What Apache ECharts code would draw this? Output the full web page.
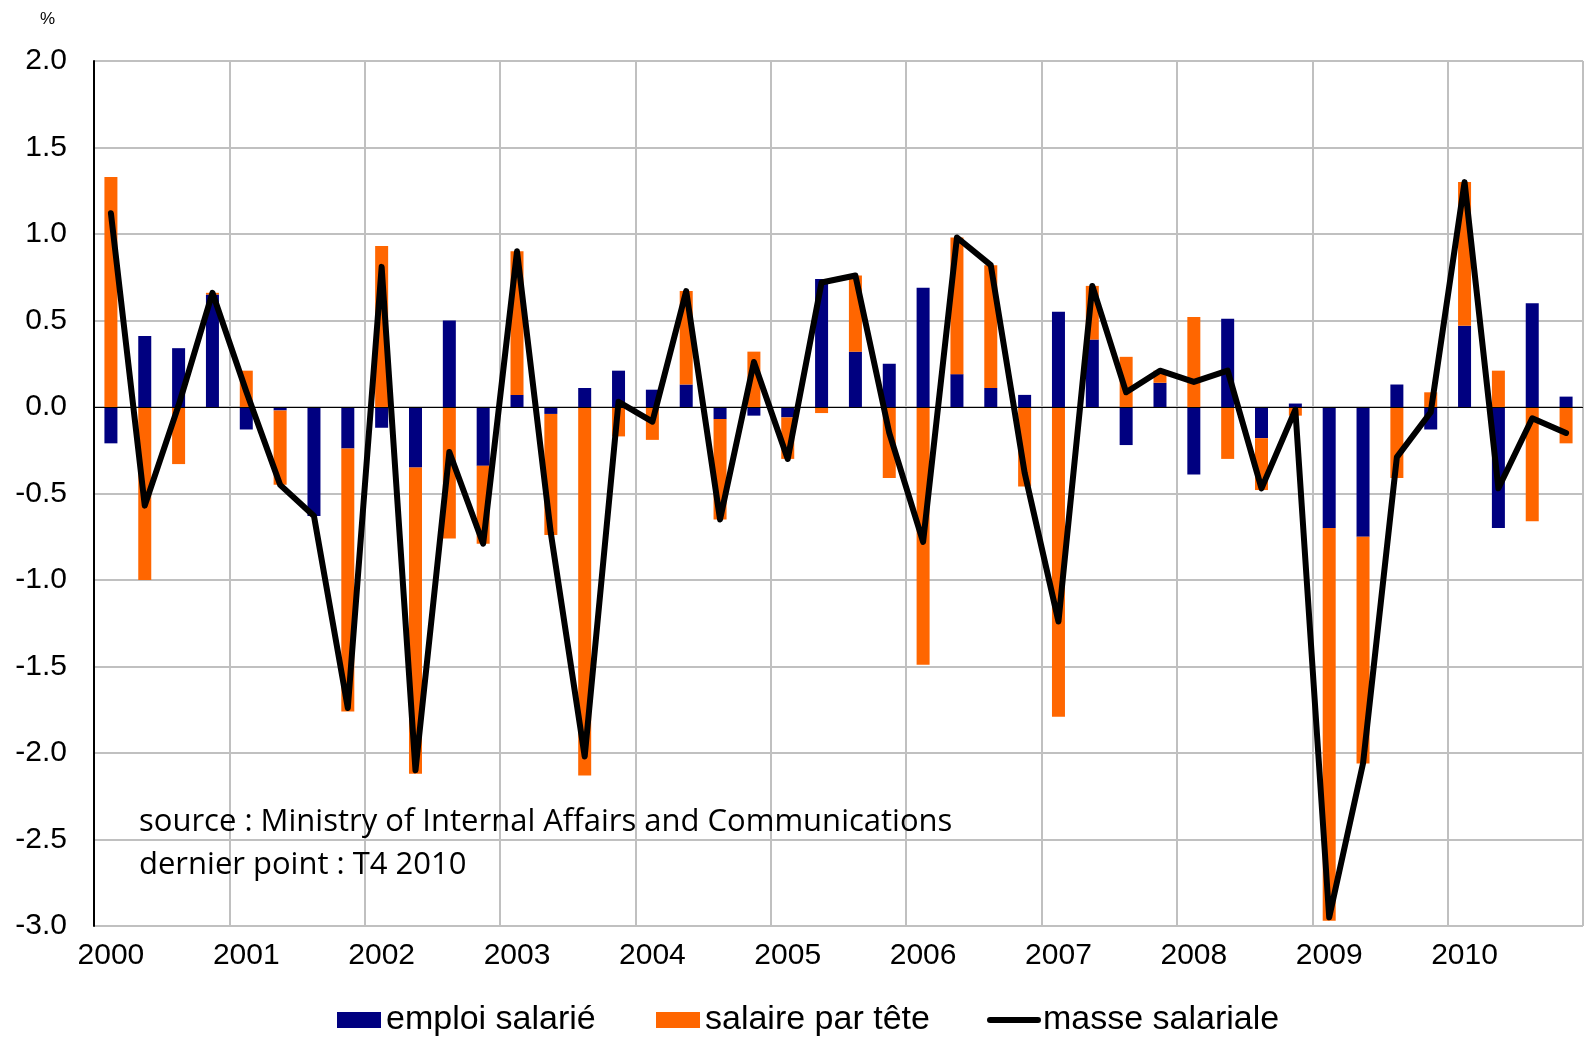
<!DOCTYPE html>
<html>
<head>
<meta charset="utf-8">
<script src="https://cdn.jsdelivr.net/npm/echarts@6/dist/echarts.min.js"></script>
<style>
  html, body { margin: 0; padding: 0; background: #fff; }
  #chart { width: 1584px; height: 1041px; }
</style>
</head>
<body>
<div id="chart"></div>
<script>
// trimestres 2000 T1 .. 2010 T4
var years = ['2000', '2001', '2002', '2003', '2004', '2005', '2006', '2007', '2008', '2009', '2010'];
var quarters = ['T1', 'T2', 'T3', 'T4'];

// emploi salarié (contribution)
var emploi = [
  -0.21, 0.41, 0.34, 0.65,
  -0.13, -0.02, -0.63, -0.24,
  -0.12, -0.35, 0.50, -0.34,
  0.07, -0.04, 0.11, 0.21,
  0.10, 0.13, -0.07, -0.05,
  -0.06, 0.74, 0.32, 0.25,
  0.69, 0.19, 0.11, 0.07,
  0.55, 0.39, -0.22, 0.14,
  -0.39, 0.51, -0.18, 0.02,
  -0.70, -0.75, 0.13, -0.13,
  0.47, -0.70, 0.60, 0.06
];

// salaire par tête (contribution)
var salaire = [
  1.33, -1.00, -0.33, 0.01,
  0.21, -0.43, 0.00, -1.52,
  0.93, -1.77, -0.76, -0.45,
  0.83, -0.70, -2.13, -0.17,
  -0.19, 0.54, -0.58, 0.32,
  -0.24, -0.035, 0.44, -0.41,
  -1.49, 0.79, 0.71, -0.46,
  -1.79, 0.31, 0.29, 0.07,
  0.52, -0.30, -0.30, -0.05,
  -2.27, -1.31, -0.41, 0.085,
  0.83, 0.21, -0.66, -0.21
];

// masse salariale
var masse = [
  1.12, -0.57, 0.01, 0.66,
  0.09, -0.45, -0.63, -1.74,
  0.81, -2.10, -0.26, -0.79,
  0.90, -0.73, -2.02, 0.03,
  -0.085, 0.67, -0.65, 0.26,
  -0.30, 0.72, 0.76, -0.15,
  -0.78, 0.98, 0.82, -0.38,
  -1.24, 0.70, 0.085, 0.21,
  0.145, 0.21, -0.47, -0.015,
  -2.95, -2.06, -0.29, -0.03,
  1.30, -0.47, -0.065, -0.15
];

var categories = [];
years.forEach(function (y) {
  quarters.forEach(function (q) { categories.push(y + ' ' + q); });
});

var chart = echarts.init(document.getElementById('chart'));

var legendText = { fontFamily: 'Liberation Sans, Arial, sans-serif', fontSize: 34, color: '#000', lineHeight: 34 };
function legendAt(item, left, w) {
  return {
    data: [item],
    left: left, top: 1003,
    itemWidth: w, itemHeight: 16, itemGap: 0,
    textStyle: legendText,
    lineStyle: { width: 6, cap: 'round', color: '#000' },
    padding: 0
  };
}

var option = {
  animation: false,
  backgroundColor: '#fff',
  grid: { left: 94, right: 1, top: 61, bottom: 115 },
  legend: [
    legendAt({ name: 'emploi salarié', icon: 'rect' }, 337, 44),
    legendAt({ name: 'salaire par tête', icon: 'rect' }, 656, 44),
    legendAt({ name: 'masse salariale', itemStyle: { opacity: 0 } }, 987, 48)
  ],
  xAxis: {
    type: 'category',
    data: categories,
    boundaryGap: true,
    axisLine: { show: false },
    axisTick: { show: false },
    axisLabel: {
      interval: 3,
      margin: 15,
      fontFamily: 'Liberation Sans, Arial, sans-serif',
      fontSize: 30,
      color: '#000',
      formatter: function (v) { return v.slice(0, 4); }
    },
    splitLine: { show: true, interval: 3, lineStyle: { color: '#c0c0c0', width: 2 } }
  },
  yAxis: {
    type: 'value',
    min: -3, max: 2, interval: 0.5,
    axisLine: { show: true, lineStyle: { color: '#000', width: 2 } },
    axisTick: { show: false },
    axisLabel: {
      margin: 27,
      fontFamily: 'Liberation Sans, Arial, sans-serif',
      fontSize: 30,
      color: '#000',
      formatter: function (v) { return v.toFixed(1); }
    },
    splitLine: { show: true, lineStyle: { color: '#c0c0c0', width: 2 } }
  },
  graphic: [
    { type: 'text', left: 40, top: 11, style: { text: '%', fontFamily: 'Liberation Sans, Arial', fontSize: 17, fill: '#000' } },
    { type: 'text', x: 139, y: 822, style: { text: 'source : Ministry of Internal Affairs and Communications', fontFamily: 'Open Sans', fontSize: 31, fill: '#000', verticalAlign: 'middle' }, z: 10 },
    { type: 'text', x: 139, y: 865, style: { text: 'dernier point : T4 2010', fontFamily: 'Open Sans', fontSize: 31, fill: '#000', verticalAlign: 'middle' }, z: 10 }
  ],
  series: [
    {
      name: 'emploi salarié', type: 'bar', stack: 'total', barWidth: 13,
      itemStyle: { color: '#000080' },
      data: emploi,
      markLine: {
        silent: true, symbol: 'none', label: { show: false },
        lineStyle: { color: '#000', width: 1.2, type: 'solid' },
        data: [{ yAxis: 0 }]
      }
    },
    {
      name: 'salaire par tête', type: 'bar', stack: 'total', barWidth: 13,
      itemStyle: { color: '#FF6600' },
      data: salaire
    },
    {
      name: 'masse salariale', type: 'line', symbol: 'none', z: 5,
      lineStyle: { color: '#000', width: 6, cap: 'round', join: 'round' },
      itemStyle: { color: '#000' },
      data: masse
    }
  ]
};

chart.setOption(option);
</script>
</body>
</html>
